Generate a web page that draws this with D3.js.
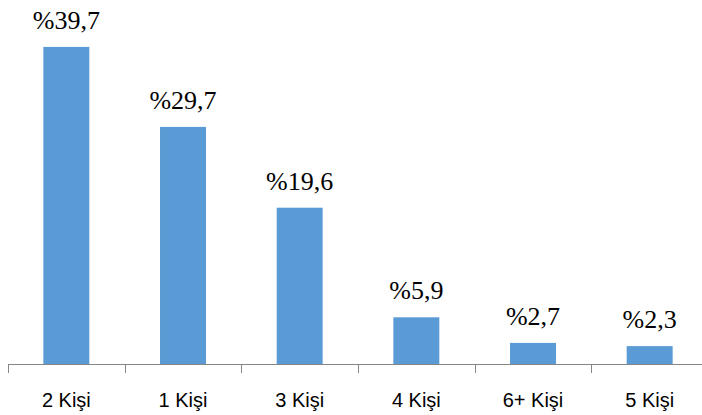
<!DOCTYPE html>
<html><head><meta charset="utf-8">
<script src="https://cdn.jsdelivr.net/npm/d3@7"></script>
<style>body{margin:0;background:#fff}</style>
</head><body>
<svg id="c" width="702" height="415"></svg>
<script>
const categories = ["2 Kişi", "1 Kişi", "3 Kişi", "4 Kişi", "6+ Kişi", "5 Kişi"];
const values = [39.7, 29.7, 19.6, 5.9, 2.7, 2.3];
const labels = ["%39,7", "%29,7", "%19,6", "%5,9", "%2,7", "%2,3"];

const svg = d3.select("#c");
const x = d3.scaleBand().domain(categories).range([8, 708]).paddingInner(0.606).paddingOuter(0.303);
const y = d3.scaleLinear().domain([0, 45]).range([364.5, 4.5]);

svg.selectAll("rect.bar").data(values).join("rect")
  .attr("class", "bar")
  .attr("x", (d, i) => x(categories[i]))
  .attr("width", x.bandwidth())
  .attr("y", d => y(d))
  .attr("height", d => y(0) - y(d))
  .attr("fill", "#5B9BD5");

// axis line
svg.append("line").attr("x1", 8).attr("x2", 702).attr("y1", 364.5).attr("y2", 364.5)
  .attr("stroke", "#868686").attr("stroke-width", 1);
// ticks between categories
const step = x.step();
const tickX = d3.range(categories.length + 1).map(i => 8 + i * step);
svg.selectAll("line.tick").data(tickX).join("line").attr("class", "tick")
  .attr("x1", d => Math.round(d) + 0.5).attr("x2", d => Math.round(d) + 0.5)
  .attr("y1", 364.5).attr("y2", 373).attr("stroke", "#868686");

svg.selectAll("text.cat").data(categories).join("text").attr("class", "cat")
  .attr("x", d => x(d) + x.bandwidth() / 2)
  .attr("y", 407)
  .attr("text-anchor", "middle")
  .attr("font-family", "'Liberation Sans', Arial, sans-serif")
  .attr("font-size", 20)
  .attr("fill", "#000")
  .text(d => d);

svg.selectAll("text.val").data(values).join("text").attr("class", "val")
  .attr("x", (d, i) => x(categories[i]) + x.bandwidth() / 2)
  .attr("y", d => y(d) - 18)
  .attr("text-anchor", "middle")
  .attr("font-family", "'Liberation Serif', 'Times New Roman', serif")
  .attr("font-size", 26)
  .attr("fill", "#000")
  .text((d, i) => labels[i]);
</script>
</body></html>
